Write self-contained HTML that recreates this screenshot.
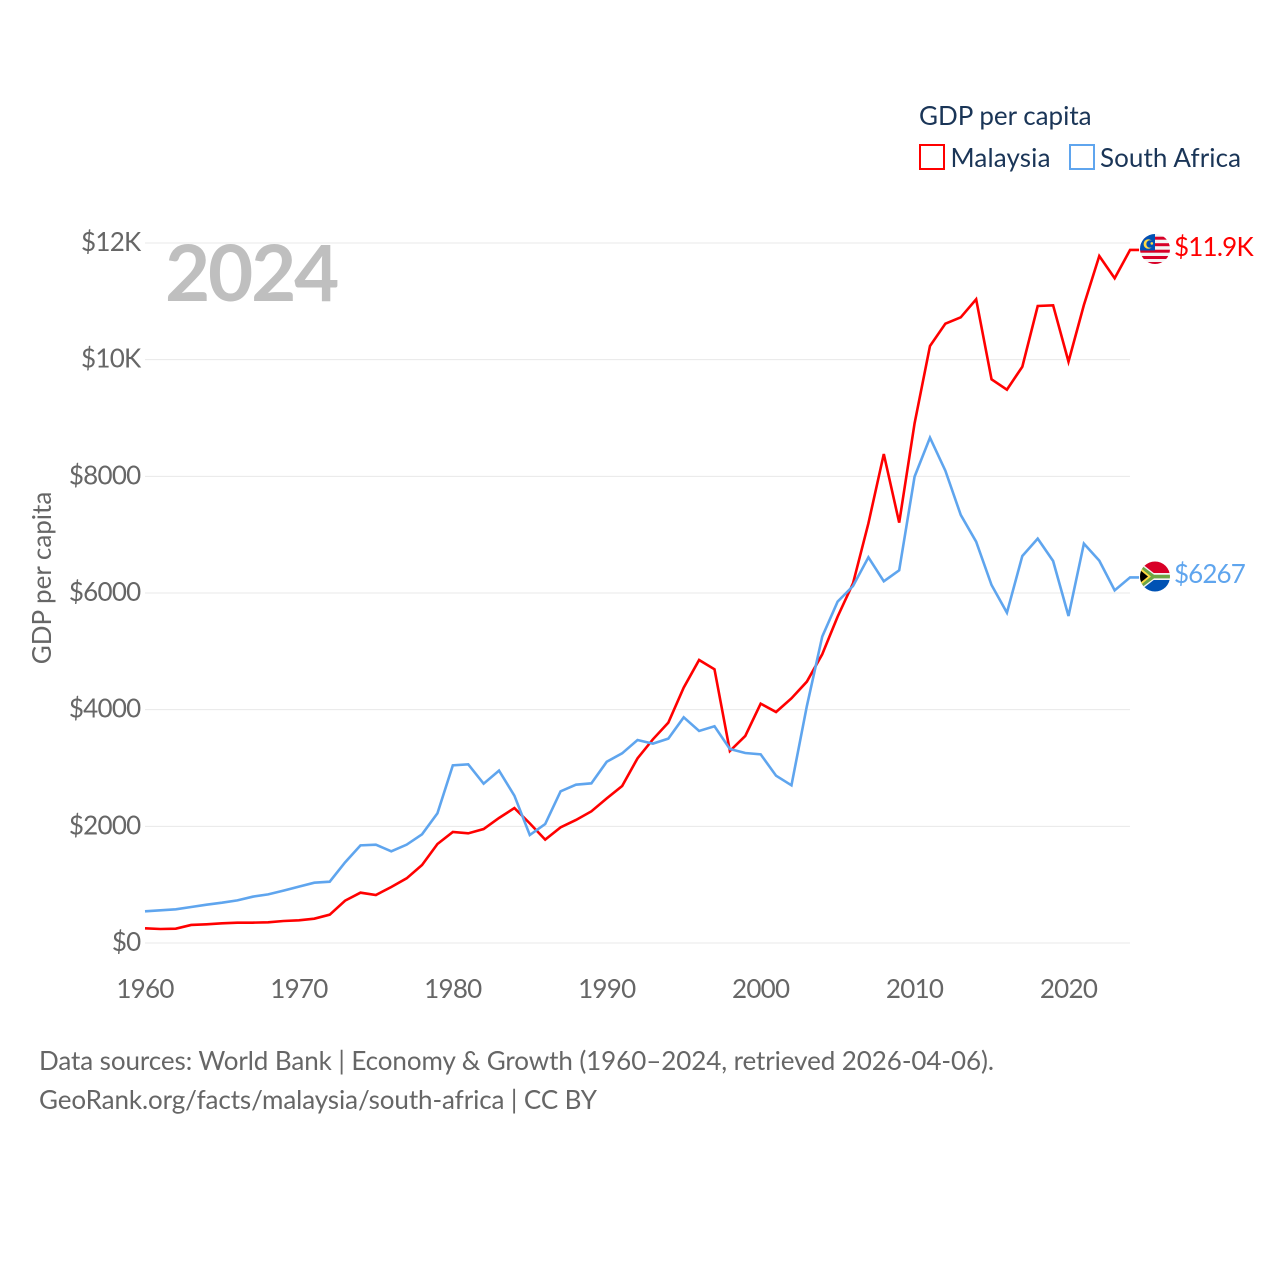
<!DOCTYPE html>
<html lang="en">
<head>
<meta charset="utf-8">
<title>GDP per capita: Malaysia and South Africa</title>
<style>
html,body{margin:0;padding:0;background:#fff;width:1280px;height:1280px;overflow:hidden}
svg{display:block}
text{font-family:"Lato","Carlito","Liberation Sans",sans-serif}
</style>
</head>
<body>
<svg id="chart" xmlns="http://www.w3.org/2000/svg" width="1280" height="1280" viewBox="0 0 1280 1280">
  <defs>
    <clipPath id="flag-clip-my"><circle cx="1155" cy="249" r="15"/></clipPath>
    <clipPath id="flag-clip-za"><circle cx="1155" cy="576.5" r="15"/></clipPath>
  </defs>
  <rect width="1280" height="1280" fill="#fff"/>
  <g id="grid"></g>
  <g id="yticks"></g>
  <g id="xticks"></g>
  <text transform="translate(51,578) rotate(-90)" text-anchor="middle" font-size="26" fill="#666">GDP per capita</text>
  <text x="165" y="301" font-size="78" font-weight="700" fill="#bfbfbf" letter-spacing="-2.2">2024</text>
  <g id="series"></g>

  <g clip-path="url(#flag-clip-my)">
    <rect x="1140" y="234" width="30" height="30" fill="#f4f4f4"/>
    <rect x="1140" y="236.7" width="30" height="3" fill="#d80027"/>
    <rect x="1140" y="243.2" width="30" height="3" fill="#d80027"/>
    <rect x="1140" y="249.7" width="30" height="3" fill="#d80027"/>
    <rect x="1140" y="256" width="30" height="3" fill="#d80027"/>
    <rect x="1140" y="262" width="30" height="3" fill="#d80027"/>
    <rect x="1140" y="234" width="15" height="16.5" fill="#0052b4"/>
    <circle cx="1148.3" cy="244" r="4.7" fill="#ffda44"/>
    <circle cx="1150" cy="244" r="3.7" fill="#0052b4"/>
    <circle cx="1151.8" cy="243.4" r="1.3" fill="#ffda44"/>
  </g>
  <g clip-path="url(#flag-clip-za)">
    <rect x="1140" y="561" width="30" height="12" fill="#d80027"/>
    <rect x="1140" y="580" width="30" height="12" fill="#0052b4"/>
    <rect x="1150" y="573" width="20" height="7" fill="#f4f4f4"/>
    <path d="M1141 563 L1155 574 H1170 V579 H1155 L1141 590 L1140 586 V567 Z" fill="#f4f4f4"/>
    <path d="M1141 565 L1154 574.8 H1170 V578.4 H1154 L1141 588 L1140 586 V567 Z" fill="#6da544"/>
    <path d="M1140 567.5 L1151 576.5 L1140 585.5 Z" fill="#ffda44"/>
    <path d="M1140 570 L1148 576.5 L1140 583 Z" fill="#000"/>
  </g>
  <text id="label-my" x="1174" y="256" font-size="26" fill="#ff0000" letter-spacing="-0.8">$11.9K</text>
  <text id="label-za" x="1174" y="583" font-size="26" fill="#5fa5ee" letter-spacing="-0.9">$6267</text>

  <g>
    <text x="919" y="125" font-size="26" fill="#1a3557">GDP per capita</text>
    <g>
      <rect x="920" y="145" width="24" height="24" fill="#fff" stroke="#ff0000" stroke-width="2"/>
      <text x="950.5" y="167" font-size="26" fill="#1a3557" textLength="100">Malaysia</text>
    </g>
    <g>
      <rect x="1070" y="145" width="24" height="24" fill="#fff" stroke="#5fa5ee" stroke-width="2"/>
      <text x="1100" y="167" font-size="26" fill="#1a3557" textLength="141">South Africa</text>
    </g>
  </g>

  <text x="39" y="1070" font-size="26" fill="#666" textLength="955">Data sources: World Bank | Economy &amp; Growth (1960–2024, retrieved 2026-04-06).</text>
  <text x="39" y="1109" font-size="26" fill="#666" textLength="558">GeoRank.org/facts/malaysia/south-africa | CC BY</text>
</svg>
<script>
const firstYear = 1960;
const malaysiaValues = [251,240,246,309,320,337,349,349,354,377,389,417,486,726,863,823,960,1109,1337,1697,1903,1880,1954,2143,2314,2051,1772,1983,2109,2257,2480,2692,3166,3492,3777,4378,4852,4692,3291,3549,4103,3960,4194,4480,4950,5595,6166,7195,8383,7206,8909,10235,10618,10726,11035,9663,9486,9880,10920,10932,9966,10937,11777,11395,11881];
const southAfricaValues = [543,560,577,617,657,691,731,794,834,897,966,1034,1051,1383,1674,1686,1571,1686,1863,2223,3046,3063,2731,2955,2526,1851,2040,2600,2714,2737,3108,3252,3480,3417,3503,3869,3635,3715,3326,3257,3234,2868,2703,4060,5252,5852,6120,6612,6200,6389,7995,8663,8097,7338,6880,6137,5663,6635,6932,6549,5606,6846,6555,6046,6267];
const yTickValues = [0,2000,4000,6000,8000,10000,12000];
const yTickLabels = ["$0","$2000","$4000","$6000","$8000","$10K","$12K"];
const xTickYears = [1960,1970,1980,1990,2000,2010,2020];

const NS = "http://www.w3.org/2000/svg";
function xScale(year){ return 145 + (year - 1960) * (1068.5 - 145) / 60; }
function yScale(value){ return 943 - value * (943 - 243) / 12000; }

const gridGroup = document.getElementById("grid");
const yGroup = document.getElementById("yticks");
yTickValues.forEach(function(v, i){
  const line = document.createElementNS(NS, "line");
  
  
  line.setAttribute("x1", 145);
  line.setAttribute("x2", 1130);
  line.setAttribute("y1", yScale(v));
  line.setAttribute("y2", yScale(v));
  line.setAttribute("stroke", "#e8e8e8");
  line.setAttribute("stroke-width", "1");
  gridGroup.appendChild(line);
  const t = document.createElementNS(NS, "text");
  
  
  t.setAttribute("x", 140.5);
  t.setAttribute("y", yScale(v) + 8);
  t.setAttribute("text-anchor", "end");
  t.setAttribute("font-size", "26");
  t.setAttribute("letter-spacing", "-0.75");
  t.setAttribute("fill", "#666");
  t.textContent = yTickLabels[i];
  yGroup.appendChild(t);
});

const xGroup = document.getElementById("xticks");
xTickYears.forEach(function(year){
  const t = document.createElementNS(NS, "text");
  
  
  t.setAttribute("x", xScale(year));
  t.setAttribute("y", 998);
  t.setAttribute("text-anchor", "middle");
  t.setAttribute("font-size", "26");
  t.setAttribute("letter-spacing", "-0.75");
  t.setAttribute("fill", "#666");
  t.textContent = String(year);
  xGroup.appendChild(t);
});

function linePoints(values){
  const pts = values.map(function(v, i){
    return xScale(firstYear + i).toFixed(2) + "," + yScale(v).toFixed(2);
  });
  const lastY = yScale(values[values.length - 1]).toFixed(2);
  pts.push((xScale(firstYear + values.length - 1) + 9).toFixed(2) + "," + lastY);
  return pts.join(" ");
}

const seriesGroup = document.getElementById("series");

const malaysiaLine = document.createElementNS(NS, "polyline");


malaysiaLine.setAttribute("points", linePoints(malaysiaValues));
malaysiaLine.setAttribute("fill", "none");
malaysiaLine.setAttribute("stroke", "#ff0000");
malaysiaLine.setAttribute("stroke-width", "2.6");
seriesGroup.appendChild(malaysiaLine);

const southAfricaLine = document.createElementNS(NS, "polyline");


southAfricaLine.setAttribute("points", linePoints(southAfricaValues));
southAfricaLine.setAttribute("fill", "none");
southAfricaLine.setAttribute("stroke", "#5fa5ee");
southAfricaLine.setAttribute("stroke-width", "2.6");
seriesGroup.appendChild(southAfricaLine);
</script>
</body>
</html>
